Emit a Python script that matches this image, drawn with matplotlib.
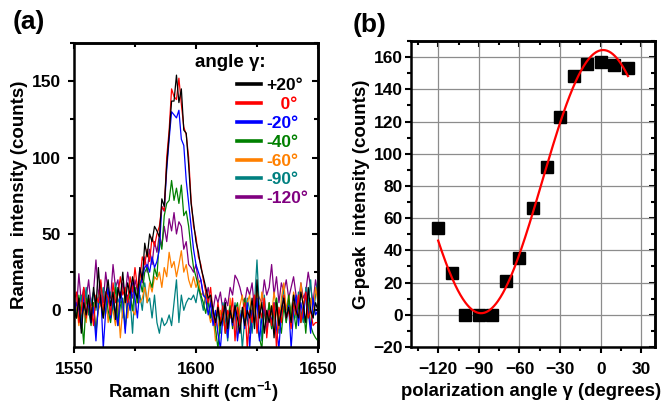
import numpy as np
import matplotlib.pyplot as plt
from matplotlib.ticker import MultipleLocator

plt.rcParams['font.family'] = ['Liberation Sans', 'DejaVu Sans']
plt.rcParams['font.weight'] = 'bold'
plt.rcParams['mathtext.fontset'] = 'custom'
plt.rcParams['mathtext.rm'] = 'Liberation Sans:bold'
plt.rcParams['mathtext.bf'] = 'Liberation Sans:bold'

# (a) Raman spectra, one value per cm^-1 from 1550 to 1650
shift = np.arange(1550, 1651)

spec_p20 = [0, -5, 8, -15, 5, -3, 10, -8, 15, 2,
            28, 5, -5, 10, 20, 3, 12, -6, 15, 8,
            25, 5, 18, 10, 22, 12, 8, 28, 20, 44,
            35, 50, 45, 55, 52, 48, 73, 68, 95, 115,
            137, 137, 154, 136, 145, 118, 116, 95, 70, 58,
            45, 38, 28, 22, 15, 8, 10, 0, -8, 2,
            -10, -5, 5, -12, 0, -8, 3, -5, -15, 2,
            -10, 0, -5, 8, -12, 20, -5, 5, -15, 0,
            -8, 3, -18, 5, -10, 0, 8, -5, 2, -8,
            10, 0, -5, 12, 3, -8, 15, 0, -5, 5,
            0]
spec_0 = [5, 12, -8, 0, 15, -5, 8, 2, -10, 10,
          5, 20, 0, 12, 8, -3, 18, 5, 10, 22,
          10, 15, 5, 22, 12, 28, 15, 20, 35, 30,
          40, 32, 48, 42, 50, 55, 68, 65, 100, 118,
          145, 140, 138, 152, 135, 120, 115, 100, 72, 55,
          48, 35, 30, 20, 12, 5, 15, -2, -10, 5,
          -8, 3, -15, 0, -5, 8, -20, 2, -10, 0,
          5, -25, 0, -8, 10, -15, 3, -5, 8, -18,
          0, -10, 5, -25, 2, -8, 10, -5, 0, -12,
          5, -3, 10, -8, 2, 12, -5, 0, -10, -8,
          -8]
spec_m20 = [-5, 5, 0, -12, 10, -3, 5, -8, 2, -20,
            5, 10, -25, 0, 15, -5, 8, 0, -10, 12,
            5, -15, 10, 0, 18, 8, -5, 15, 22, 28,
            30, 25, 35, 28, 32, 40, 68, 65, 92, 112,
            130, 128, 126, 131, 112, 108, 85, 70, 55, 40,
            30, 25, 20, 10, 8, -3, 5, -10, 0, -15,
            -25, -5, 5, -18, 0, -10, 3, -20, -5, 0,
            -12, 5, -25, 0, -8, 8, -20, -5, 3, -15,
            0, -8, 5, -12, -25, 0, 8, -5, 3, -25,
            0, 10, -10, 5, -5, 12, 0, -15, 8, -3,
            0]
spec_m40 = [5, -5, 10, -3, -22, 8, 0, -10, 5, -15,
            3, 8, -5, 12, 0, -8, 5, 15, -10, 3,
            8, -12, 5, 10, 0, 15, 5, 20, 12, 25,
            28, 20, 15, 28, 22, 47, 40, 62, 70, 72,
            85, 72, 80, 70, 82, 62, 65, 55, 40, 28,
            22, 15, 10, 5, -2, 8, -5, 0, -12, -25,
            -8, 0, -15, -5, 3, -12, 0, 5, -10, -3,
            8, -5, -15, 0, 5, -10, -18, -25, 0, -8,
            5, -12, 0, 8, -5, -15, 3, -8, 10, -5,
            0, -12, 5, -8, 3, -15, 5, -10, -15, -18,
            -20]
spec_m60 = [-5, 3, -10, 5, 0, -8, 8, -3, 5, -12,
            0, 5, -5, 10, -8, 3, 0, -10, 5, -18,
            2, 8, -5, 10, 0, -3, 12, 5, 8, 15,
            5, 18, 12, 22, 20, 25, 15, 28, 22, 38,
            28, 32, 22, 30, 39, 25, 30, 20, 15, 22,
            15, 20, 10, 12, 5, 0, -8, -3, -20, -12,
            0, -10, 5, -15, 8, -5, 0, -18, 3, 10,
            -5, 5, 10, -8, 0, 15, -5, 12, 3, -10,
            5, -3, 12, 0, -12, 8, 18, 0, 10, -5,
            12, 5, -8, 18, 3, 10, -5, 8, 0, 15,
            5]
spec_m90 = [8, -5, 3, 10, 0, 15, -3, 5, 12, 0,
            10, 5, 15, -2, 8, 12, 0, 18, 5, 10,
            -5, 12, 3, 8, -15, 15, 5, 10, 0, 18,
            5, 8, -5, 10, -8, -15, -5, -10, -8, -3,
            -10, 5, 20, -8, 10, 0, 5, 8, 7, 10,
            5, 15, 8, 0, 12, 5, -5, 2, -12, 0,
            -15, 5, -5, -20, 0, -8, 5, -15, 0, -25,
            -5, 8, 0, -15, 5, 33, 0, -20, 10, -8,
            5, -12, 0, 8, -15, 3, 15, -8, 5, 0,
            10, -5, 12, 0, -8, 15, 5, 20, -5, 10,
            20]
spec_m120 = [10, 0, 24, 5, 15, 8, 20, 3, 12, 33,
             10, 18, 5, 25, 12, 8, 30, 15, 20, 5,
             18, 10, 25, 15, 8, 20, 12, 28, 18, 35,
             25, 40, 30, 45, 38, 50, 42, 55, 45, 60,
             52, 64, 50, 58, 55, 40, 45, 30, 28, 25,
             30, 18, 20, 10, 8, 15, 5, 0, 10, 5,
             12, 0, 8, 3, 15, 10, 23, 20, 15, 8,
             5, 15, 10, 18, 0, 12, 8, 5, 20, 10,
             15, 30, 10, 22, 5, 18, 12, 20, 8, 15,
             22, 10, 5, 18, 8, 12, 25, 15, 5, 20,
             10]

series_labels = ['+20°', '   0°', '-20°', '-40°', '-60°', '-90°', '-120°']
series_colors = ['black', '#ff0000', '#0000ff', '#008000', '#ff8000', '#008080', '#800080']
spectra = [spec_p20, spec_0, spec_m20, spec_m40, spec_m60, spec_m90, spec_m120]

# (b) G-peak intensity vs polarization angle
angle = [-120, -110, -100, -90, -80, -70, -60, -50, -40, -30, -20, -10, 0, 10, 20]
gpeak = [54, 26, 0, 0, 0, 21, 35, 66, 92, 123, 148, 156, 157, 155, 153]

fig = plt.figure(figsize=(6.63, 4.08), dpi=100)
ax1 = fig.add_axes([0.1116, 0.1495, 0.368, 0.745])
ax2 = fig.add_axes([0.620, 0.1495, 0.368, 0.75])

# draw back to front so black ends on top
for s, c, lab in reversed(list(zip(spectra, series_colors, series_labels))):
    ax1.plot(shift, s, color=c, lw=0.9, label=lab)

handles, labels = ax1.get_legend_handles_labels()
leg = ax1.legend(handles[::-1], labels[::-1], loc='upper left', frameon=False,
                 fontsize=12.5, handlelength=1.38, handletextpad=0.3,
                 labelspacing=0.21, borderaxespad=0, borderpad=0,
                 bbox_to_anchor=(0.668, 0.884))
for t, c in zip(leg.get_texts(), series_colors):
    t.set_color(c)
    t.set_fontweight('bold')
for h in leg.get_lines():
    h.set_linewidth(2.6)
ax1.text(0.496, 0.936, 'angle γ:', transform=ax1.transAxes, fontsize=13.5,
         fontweight='bold', va='center', ha='left')

ax1.set_xlim(1550, 1650)
ax1.set_ylim(-24, 175)
ax1.xaxis.set_major_locator(MultipleLocator(50))
ax1.xaxis.set_minor_locator(MultipleLocator(25))
ax1.yaxis.set_major_locator(MultipleLocator(50))
ax1.yaxis.set_minor_locator(MultipleLocator(25))
ax1.set_xlabel('Raman  shift (cm$^{-1}$)', fontsize=13.2, fontweight='bold')
ax1.set_ylabel('Raman  intensity (counts)', fontsize=13.5, fontweight='bold')
ax1.xaxis.set_label_coords(0.49, -0.109)
ax1.yaxis.set_label_coords(-0.189, 0.5)

# fit I = a + b cos(2g) + c sin(2g) to the measured points
g = np.radians(angle)
A = np.column_stack([np.ones_like(g), np.cos(2 * g), np.sin(2 * g)])
coef, *_ = np.linalg.lstsq(A, np.array(gpeak, float), rcond=None)
gg = np.linspace(min(angle), max(angle), 300)
rg = np.radians(gg)
fit = coef[0] + coef[1] * np.cos(2 * rg) + coef[2] * np.sin(2 * rg)

ax2.grid(True, color='#8c8c8c', lw=0.9)
ax2.set_axisbelow(True)
ax2.plot(angle, gpeak, 's', color='black', ms=8, zorder=3)
ax2.plot(gg, fit, color='#ff0000', lw=1.6, zorder=4)
ax2.set_xlim(-140, 40)
ax2.set_ylim(-20, 170)
ax2.xaxis.set_major_locator(MultipleLocator(30))
ax2.xaxis.set_minor_locator(MultipleLocator(15))
ax2.yaxis.set_major_locator(MultipleLocator(20))
ax2.yaxis.set_minor_locator(MultipleLocator(10))
ax2.set_xlabel('polarization angle γ (degrees)', fontsize=13.3, fontweight='bold')
ax2.set_ylabel('G-peak  intensity (counts)', fontsize=13.5, fontweight='bold')
ax2.xaxis.set_label_coords(0.492, -0.118)
ax2.yaxis.set_label_coords(-0.168, 0.5)

for ax, ypad in ((ax1, 5), (ax2, 1.5)):
    for sp in ax.spines.values():
        sp.set_linewidth(1.8)
    # bottom/left ticks point out, mirrored top/right ticks point in
    ax.tick_params(which='both', direction='out', width=1.5, labelsize=12.5)
    ax.tick_params(which='major', length=4.5)
    ax.tick_params(which='minor', length=3)
    ax.tick_params(axis='x', pad=6)
    ax.tick_params(axis='y', pad=ypad)
    for lab in ax.get_xticklabels() + ax.get_yticklabels():
        lab.set_fontweight('bold')
    top = ax.secondary_xaxis('top')
    top.xaxis.set_major_locator(ax.xaxis.get_major_locator())
    top.xaxis.set_minor_locator(ax.xaxis.get_minor_locator())
    right = ax.secondary_yaxis('right')
    right.yaxis.set_major_locator(ax.yaxis.get_major_locator())
    right.yaxis.set_minor_locator(ax.yaxis.get_minor_locator())
    for sec in (top, right):
        sec.tick_params(which='both', direction='in', width=1.5,
                        labeltop=False, labelright=False)
        sec.tick_params(which='major', length=4.5)
        sec.tick_params(which='minor', length=3)
        for sp in sec.spines.values():
            sp.set_linewidth(1.8)

fig.text(0.0196, 0.975, '(a)', fontsize=19, fontweight='bold', va='top')
fig.text(0.532, 0.968, '(b)', fontsize=19, fontweight='bold', va='top')

fig.savefig('out.png', dpi=100)
